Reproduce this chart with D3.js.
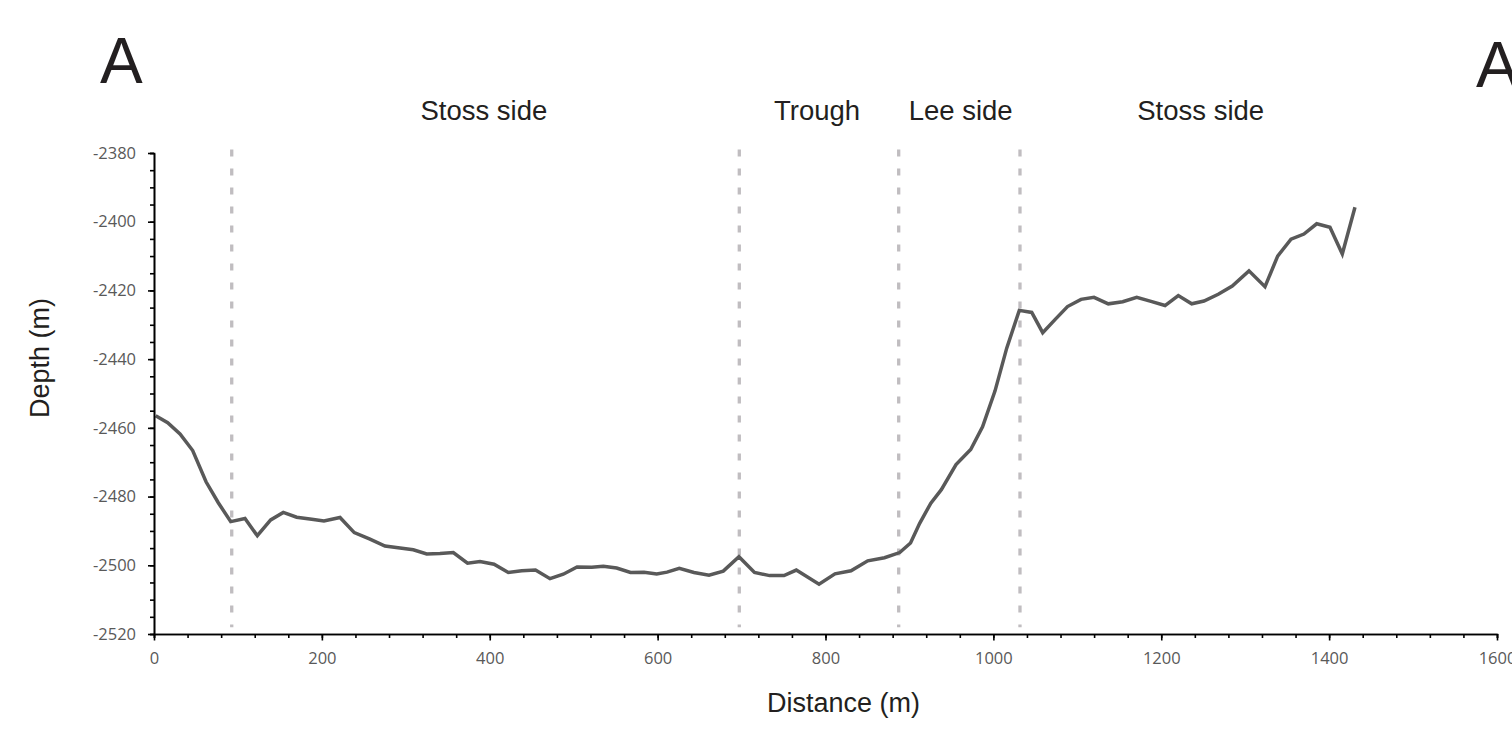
<!DOCTYPE html>
<html>
<head>
<meta charset="utf-8">
<script src="https://cdn.jsdelivr.net/npm/d3@7"></script>
<style>
  html, body { margin: 0; padding: 0; background: #fff; }
  svg { display: block; }
</style>
</head>
<body>
<div id="chart"></div>
<script>
// Depth profile along section A, with the bedform zones marked by dashed lines.

const distance = [
  2, 16.3, 31, 46.1, 62, 76.6, 91.4, 108.4, 123.1, 139, 154, 170, 187.9, 202.5,
  221.6, 238.6, 257.3, 275.2, 293.1, 308.9, 324.9, 340.7, 356.6, 373.5, 388.4,
  405.1, 422.1, 438.1, 454.5, 471.8, 487.6, 504, 521.5, 535.3, 551.2, 567.7,
  583.8, 598.9, 611.2, 625.8, 643.3, 661.2, 678.2, 696.9, 715.4, 733.5, 750.6,
  765.2, 792.3, 811.3, 830.4, 850.3, 870.3, 888.4, 901.3, 912.2, 925.5, 938,
  955.5, 973, 987.1, 1001.9, 1015.9, 1030.9, 1045.7, 1058.8, 1073.4, 1088.3,
  1104.4, 1119.9, 1136.9, 1154.1, 1170.8, 1187.8, 1204.5, 1220.3, 1236.3,
  1250.9, 1267.9, 1284.6, 1304.5, 1323.6, 1338.7, 1354.6, 1370, 1385.2, 1401,
  1415.7, 1430.8
];

const depth = [
  -2456.5, -2458.5, -2461.8, -2466.6, -2475.7, -2481.8, -2487.3, -2486.4,
  -2491.4, -2486.8, -2484.6, -2486.0, -2486.6, -2487.1, -2486.1, -2490.5,
  -2492.4, -2494.4, -2495.0, -2495.5, -2496.7, -2496.6, -2496.3, -2499.4,
  -2498.9, -2499.7, -2502.1, -2501.6, -2501.4, -2503.9, -2502.6, -2500.5,
  -2500.6, -2500.3, -2500.8, -2502.1, -2502.0, -2502.5, -2502.0, -2500.9,
  -2502.1, -2502.9, -2501.7, -2497.5, -2502.1, -2503.0, -2503.0, -2501.4,
  -2505.5, -2502.5, -2501.6, -2498.7, -2497.8, -2496.3, -2493.5, -2487.8,
  -2481.9, -2478.0, -2470.7, -2466.3, -2459.7, -2449.3, -2436.8, -2425.8,
  -2426.4, -2432.3, -2428.5, -2424.7, -2422.6, -2422.0, -2423.9, -2423.3,
  -2422.0, -2423.2, -2424.4, -2421.5, -2423.9, -2423.1, -2421.1, -2418.7,
  -2414.3, -2418.9, -2410.0, -2405.1, -2403.6, -2400.6, -2401.6, -2409.4,
  -2395.8
];

// Zone boundaries (distance, m) and zone labels placed at their centres
const boundaries  = [92.6, 697.3, 887.2, 1031.7];
const zoneLabels  = ["Stoss side", "Trough", "Lee side", "Stoss side"];
const zoneCenters = [393, 790, 961, 1247];

const xTicks = d3.range(0, 1601, 200);
const yTicks = d3.range(-2520, -2379, 20);

const W = 1512;
const H = 739;

const lineColor = "#595959";
const textColor = "#595959";
const dashColor = "#c0bdc0";
const tickFont  = "'Open Sans', 'Noto Sans', sans-serif";
const titleFont = "'Liberation Sans', Arial, sans-serif";

const svg = d3.select("#chart")
  .append("svg")
    .attr("width",  W)
    .attr("height", H);

const xScale = d3.scaleLinear()
  .domain([0, 1600])
  .range([154, 1497]);

const yScale = d3.scaleLinear()
  .domain([-2520, -2380])
  .range([634, 153]);

// Dashed zone boundaries
svg.selectAll(".boundary")
  .data(boundaries)
  .join("line")
    .attr("class",            "boundary")
    .attr("x1",               d => xScale(d))
    .attr("x2",               d => xScale(d))
    .attr("y1",               yScale(-2379))
    .attr("y2",               yScale(-2518))
    .attr("stroke",           dashColor)
    .attr("stroke-width",     3.3)
    .attr("stroke-dasharray", "7,12");

// Profile line
const points = distance.map((d, i) => [d, depth[i]]);

const lineFn = d3.line()
  .x(d => xScale(d[0]))
  .y(d => yScale(d[1]));

svg.append("path")
  .datum(points)
  .attr("d",               lineFn)
  .attr("fill",            "none")
  .attr("stroke",          lineColor)
  .attr("stroke-width",    3.5)
  .attr("stroke-linejoin", "miter");

// Axes: minor ticks first, then the labelled major ticks
function styleAxis(ag) {
  ag.select(".domain").attr("stroke", "#000").attr("stroke-width", 1.6);
  ag.selectAll(".tick line").attr("stroke", "#000").attr("stroke-width", 1.6);
  ag.selectAll("text")
    .attr("fill",        textColor)
    .attr("font-size",   "16.5px")
    .attr("font-family", tickFont);
}

// plain hyphen-minus, no thousands separator
const plain = d => String(d);

const xMinor = svg.append("g")
  .attr("transform", `translate(0,${yScale(-2520)})`)
  .call(d3.axisBottom(xScale).tickValues(d3.range(0, 1601, 40)).tickSize(4).tickFormat(""));
styleAxis(xMinor);

const xAxisG = svg.append("g")
  .attr("transform", `translate(0,${yScale(-2520)})`)
  .call(d3.axisBottom(xScale).tickValues(xTicks).tickSize(6.5).tickSizeOuter(0)
    .tickPadding(12).tickFormat(plain));
styleAxis(xAxisG);

const yMinor = svg.append("g")
  .attr("transform", `translate(${xScale(0)},0)`)
  .call(d3.axisLeft(yScale).tickValues(d3.range(-2520, -2379, 5)).tickSize(4).tickFormat(""));
styleAxis(yMinor);

const yAxisG = svg.append("g")
  .attr("transform", `translate(${xScale(0)},0)`)
  .call(d3.axisLeft(yScale).tickValues(yTicks).tickSize(6).tickSizeOuter(0).tickPadding(12)
    .tickFormat(plain));
styleAxis(yAxisG);

// Axis titles
svg.append("text")
  .attr("x",           xScale(0) + (1497 - xScale(0)) / 2 + 18)
  .attr("y",           712)
  .attr("text-anchor", "middle")
  .attr("fill",        "#231f20")
  .attr("font-size",   "27px")
  .attr("font-family", titleFont)
  .text("Distance (m)");

svg.append("text")
  .attr("transform",   "translate(49,358) rotate(-90)")
  .attr("text-anchor", "middle")
  .attr("fill",        "#231f20")
  .attr("font-size",   "27px")
  .attr("font-family", titleFont)
  .text("Depth (m)");

// Zone labels above the plot
svg.selectAll(".zone-label")
  .data(zoneLabels)
  .join("text")
    .attr("class",       "zone-label")
    .attr("x",           (d, i) => xScale(zoneCenters[i]))
    .attr("y",           120)
    .attr("text-anchor", "middle")
    .attr("fill",        "#231f20")
    .attr("font-size",   "27.5px")
    .attr("font-family", titleFont)
    .text(d => d);

// Section end markers
svg.append("text")
  .attr("x",           100)
  .attr("y",           83)
  .attr("fill",        "#231f20")
  .attr("font-size",   "64px")
  .attr("font-family", titleFont)
  .text("A");

svg.append("text")
  .attr("x",           1476)
  .attr("y",           86.5)
  .attr("fill",        "#231f20")
  .attr("font-size",   "64px")
  .attr("font-family", titleFont)
  .text("A");
</script>
</body>
</html>
